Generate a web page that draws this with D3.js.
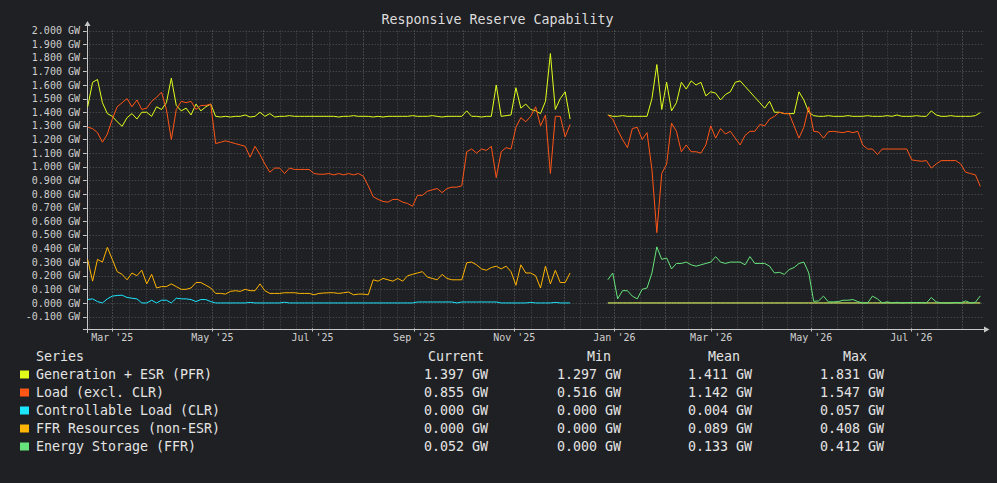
<!DOCTYPE html>
<html>
<head>
<meta charset="utf-8">
<title>Responsive Reserve Capability</title>
<script src="https://cdn.jsdelivr.net/npm/d3@7"></script>
<style>
    html, body { margin: 0; padding: 0; background: #1f2023; }
    svg text { font-family: "DejaVu Sans Mono", monospace; }
</style>
</head>
<body>
<div id="chart"></div>
<script>
"use strict";

var title = "Responsive Reserve Capability";
var seriesNames = ["Generation + ESR (PFR)", "Load (excl. CLR)", "Controllable Load (CLR)",
                   "FFR Resources (non-ESR)", "Energy Storage (FFR)"];
var seriesColors = ["#e2ff1c", "#ff5517", "#1ce6ff", "#ffb400", "#66e37c"];

/* legend statistics as printed under the chart (GW) */
var currentVals = [1.397, 0.855, 0.000, 0.000, 0.052];
var minVals     = [1.297, 0.516, 0.000, 0.000, 0.000];
var meanVals    = [1.411, 1.142, 0.004, 0.089, 0.133];
var maxVals     = [1.831, 1.547, 0.057, 0.408, 0.412];

var yTickValues = [-0.1, 0, 0.1, 0.2, 0.3, 0.4, 0.5, 0.6, 0.7, 0.8, 0.9, 1.0,
                   1.1, 1.2, 1.3, 1.4, 1.5, 1.6, 1.7, 1.8, 1.9, 2.0];
var xTickLabels = ["2025-03-01", "2025-05-01", "2025-07-01", "2025-09-01", "2025-11-01",
                   "2026-01-01", "2026-03-01", "2026-05-01", "2026-07-01"];

/* first block: samples every 3 days, 14 Feb 2025 .. 5 Dec 2025 */
var startA = "2025-02-14", endA = "2025-12-05";
var genA = [1.44, 1.62, 1.64, 1.47, 1.39, 1.37, 1.33, 1.297, 1.36, 1.39,
            1.35, 1.40, 1.40, 1.37, 1.44, 1.42, 1.47, 1.65, 1.45, 1.41,
            1.43, 1.38, 1.46, 1.41, 1.44, 1.46, 1.37, 1.365, 1.37, 1.365,
            1.37, 1.37, 1.38, 1.365, 1.37, 1.40, 1.37, 1.39, 1.365, 1.37,
            1.37, 1.375, 1.37, 1.37, 1.37, 1.37, 1.37, 1.37, 1.37, 1.37,
            1.37, 1.365, 1.37, 1.37, 1.375, 1.37, 1.37, 1.37, 1.365, 1.37,
            1.365, 1.37, 1.37, 1.37, 1.37, 1.37, 1.375, 1.37, 1.37, 1.37,
            1.375, 1.37, 1.365, 1.37, 1.37, 1.37, 1.37, 1.41, 1.37, 1.37,
            1.365, 1.37, 1.37, 1.60, 1.37, 1.375, 1.38, 1.58, 1.43, 1.46,
            1.42, 1.41, 1.39, 1.48, 1.831, 1.42, 1.50, 1.55, 1.35];
var loadA = [1.29, 1.28, 1.25, 1.18, 1.24, 1.35, 1.44, 1.47, 1.50, 1.44,
             1.49, 1.42, 1.43, 1.48, 1.51, 1.547, 1.42, 1.20, 1.42, 1.48,
             1.47, 1.48, 1.42, 1.45, 1.45, 1.46, 1.17, 1.18, 1.19, 1.18,
             1.17, 1.16, 1.15, 1.07, 1.15, 1.09, 1.02, 0.96, 0.99, 0.99,
             0.95, 0.99, 0.98, 0.98, 0.98, 0.98, 0.95, 0.945, 0.945, 0.95,
             0.94, 0.95, 0.94, 0.95, 0.94, 0.95, 0.93, 0.86, 0.78, 0.76,
             0.745, 0.74, 0.76, 0.76, 0.74, 0.73, 0.71, 0.79, 0.79, 0.82,
             0.83, 0.84, 0.81, 0.84, 0.85, 0.85, 0.86, 1.11, 1.13, 1.10,
             1.13, 1.12, 1.15, 0.92, 1.11, 1.14, 1.13, 1.29, 1.36, 1.33,
             1.37, 1.44, 1.30, 1.38, 0.95, 1.37, 1.37, 1.22, 1.31];
var clrA = [0.025, 0.03, 0.01, 0, 0.03, 0.05, 0.055, 0.057, 0.04, 0.035,
            0.03, 0, 0, 0.02, 0, 0.02, 0.02, 0, 0.035, 0.03,
            0.03, 0.025, 0.01, 0.025, 0.025, 0.01, 0, 0, 0, 0,
            0, 0, 0, 0.004, 0, 0, 0, 0, 0, 0,
            0.005, 0, 0, 0, 0, 0, 0, 0, 0, 0,
            0, 0, 0, 0, 0, 0, 0, 0, 0, 0,
            0, 0, 0, 0, 0, 0, 0, 0.007, 0.007, 0.007,
            0.007, 0.007, 0.007, 0.007, 0.007, 0, 0.007, 0.007, 0.007, 0.007,
            0.007, 0.007, 0.007, 0.007, 0, 0, 0, 0, 0, 0,
            0.004, 0, 0, 0, 0, 0.004, 0, 0, 0];
var ffrA = [0.32, 0.16, 0.32, 0.30, 0.408, 0.32, 0.23, 0.21, 0.17, 0.22,
            0.20, 0.24, 0.14, 0.21, 0.11, 0.12, 0.12, 0.14, 0.12, 0.10,
            0.10, 0.11, 0.15, 0.15, 0.13, 0.11, 0.07, 0.07, 0.065, 0.085,
            0.09, 0.085, 0.10, 0.09, 0.09, 0.14, 0.09, 0.07, 0.07, 0.07,
            0.075, 0.075, 0.075, 0.07, 0.07, 0.07, 0.06, 0.07, 0.073, 0.075,
            0.075, 0.07, 0.075, 0.08, 0.06, 0.065, 0.065, 0.06, 0.17, 0.16,
            0.18, 0.17, 0.16, 0.18, 0.16, 0.20, 0.21, 0.22, 0.23, 0.19,
            0.18, 0.17, 0.21, 0.18, 0.17, 0.17, 0.17, 0.295, 0.30, 0.28,
            0.25, 0.24, 0.26, 0.27, 0.25, 0.27, 0.23, 0.13, 0.28, 0.22,
            0.22, 0.20, 0.11, 0.27, 0.14, 0.24, 0.15, 0.15, 0.22];

/* second block after the data gap: 28 Dec 2025 .. 12 Aug 2026 */
var startB = "2025-12-28", endB = "2026-08-12";
var genB = [1.38, 1.37, 1.37, 1.375, 1.37, 1.37, 1.37, 1.37, 1.37, 1.50,
            1.75, 1.42, 1.62, 1.41, 1.47, 1.62, 1.57, 1.63, 1.60, 1.62,
            1.52, 1.55, 1.54, 1.49, 1.53, 1.55, 1.62, 1.63, 1.59, 1.55,
            1.51, 1.47, 1.43, 1.48, 1.40, 1.40, 1.39, 1.39, 1.39, 1.55,
            1.49, 1.40, 1.375, 1.37, 1.37, 1.375, 1.37, 1.37, 1.37, 1.375,
            1.37, 1.37, 1.37, 1.375, 1.37, 1.37, 1.37, 1.375, 1.37, 1.38,
            1.37, 1.37, 1.37, 1.375, 1.37, 1.37, 1.41, 1.38, 1.37, 1.37,
            1.375, 1.37, 1.37, 1.37, 1.37, 1.375, 1.397];
var loadB = [1.38, 1.35, 1.27, 1.20, 1.14, 1.28, 1.29, 1.20, 1.25, 0.98,
             0.516, 0.95, 1.02, 1.32, 1.26, 1.11, 1.16, 1.11, 1.11, 1.10,
             1.16, 1.30, 1.21, 1.28, 1.24, 1.26, 1.21, 1.16, 1.23, 1.26,
             1.26, 1.31, 1.30, 1.35, 1.37, 1.40, 1.39, 1.39, 1.30, 1.21,
             1.29, 1.44, 1.26, 1.255, 1.21, 1.257, 1.26, 1.255, 1.25, 1.26,
             1.25, 1.26, 1.16, 1.13, 1.13, 1.09, 1.13, 1.13, 1.13, 1.13,
             1.13, 1.13, 1.05, 1.045, 1.04, 1.045, 0.99, 1.02, 1.045, 1.045,
             1.045, 1.045, 1.02, 0.96, 0.95, 0.94, 0.855];
var clrB = [0, 0, 0, 0, 0, 0, 0, 0, 0, 0,
            0, 0, 0, 0, 0, 0, 0, 0, 0, 0,
            0, 0, 0, 0, 0, 0, 0, 0, 0, 0,
            0, 0, 0, 0, 0, 0, 0, 0, 0, 0,
            0, 0, 0, 0, 0, 0, 0, 0, 0, 0,
            0, 0, 0, 0, 0, 0, 0, 0, 0, 0,
            0, 0, 0, 0, 0, 0, 0, 0, 0, 0,
            0, 0, 0, 0, 0, 0, 0];
var ffrB = [0, 0, 0, 0, 0, 0, 0, 0, 0, 0,
            0, 0, 0, 0, 0, 0, 0, 0, 0, 0,
            0, 0, 0, 0, 0, 0, 0, 0, 0, 0,
            0, 0, 0, 0, 0, 0, 0, 0, 0, 0,
            0, 0, 0, 0, 0, 0, 0, 0, 0, 0,
            0, 0, 0, 0, 0, 0, 0, 0, 0, 0,
            0, 0, 0, 0, 0, 0, 0, 0, 0, 0,
            0, 0, 0, 0, 0, 0, 0];
var storB = [0.17, 0.22, 0.03, 0.09, 0.09, 0.05, 0.03, 0.10, 0.11, 0.22,
             0.412, 0.32, 0.33, 0.25, 0.29, 0.29, 0.30, 0.28, 0.27, 0.28,
             0.29, 0.30, 0.34, 0.30, 0.29, 0.30, 0.30, 0.30, 0.28, 0.34,
             0.29, 0.29, 0.29, 0.27, 0.22, 0.225, 0.21, 0.245, 0.26, 0.29,
             0.30, 0.22, 0.012, 0.015, 0.05, 0.008, 0.008, 0.01, 0.02, 0.02,
             0.025, 0.01, 0, 0, 0.05, 0.03, 0, 0.008, 0, 0.005,
             0, 0.003, 0.003, 0.003, 0.003, 0, 0.04, 0.008, 0, 0,
             0, 0.004, 0, 0.015, 0, 0.005, 0.052];

var width = 997, height = 483;
var plot = { left: 86.7, right: 984, top: 30.5, bottom: 328.5 };
var parseDay = d3.utcParse("%Y-%m-%d");

/**
 * @function samples
 * @description spreads a block of values evenly between its first and last day
 * @return array of {t, v}
 */
function samples(start, end, values) {
    var t0 = +parseDay(start), t1 = +parseDay(end);
    var step = (t1 - t0) / (values.length - 1);
    return values.map(function (v, i) { return { t: new Date(t0 + i * step), v: v }; });
}

/** joins the two blocks, leaving a break between them */
function joined(a, b) {
    var pa = a ? samples(startA, endA, a) : [];
    var pb = samples(startB, endB, b);
    if (pa.length) { pa.push({ t: parseDay("2025-12-16"), v: null }); }
    return pa.concat(pb);
}

var series = [
    joined(genA, genB),
    joined(loadA, loadB),
    joined(clrA, clrB),
    joined(ffrA, ffrB),
    joined(null, storB)
];

var svg = d3.select("#chart").append("svg")
    .attr("width", width).attr("height", height)
    .style("display", "block").style("background", "#1f2023");

var x = d3.scaleUtc()
    .domain([new Date(Date.UTC(2025, 1, 13, 10)), new Date(Date.UTC(2026, 7, 14, 6))])
    .range([plot.left, plot.right]);
var y = d3.scaleLinear().domain([-0.1875, 2.0]).range([plot.bottom, plot.top]);

function crisp(v) { return Math.round(v) + 0.5; }

/* title */
svg.append("text")
    .attr("x", 497.5).attr("y", 23.5)
    .attr("text-anchor", "middle")
    .attr("fill", "#dcdcdc").style("font-size", "13.3px")
    .text(title);

/* grid: horizontal every 0.1 GW, vertical at month starts plus minor splits */
var grid = svg.append("g").attr("class", "grid");
grid.selectAll("line.h").data(yTickValues).enter().append("line")
    .attr("class", "h")
    .attr("x1", plot.left).attr("x2", plot.right)
    .attr("y1", function (d) { return crisp(y(d)); })
    .attr("y2", function (d) { return crisp(y(d)); })
    .attr("stroke", "#555").attr("stroke-dasharray", "1,2");

var d0 = x.domain()[0], d1 = x.domain()[1];
var months = d3.utcMonth.range(d3.utcMonth.floor(d0), d1);
var minor = [];
months.forEach(function (m) {
    var next = d3.utcMonth.offset(m, 1);
    /* 2025 months (Mar..Dec) split in thirds, the others in halves */
    var parts = (m.getUTCFullYear() === 2025 && m.getUTCMonth() >= 2) ? 3 : 2;
    for (var k = 1; k < parts; k++) {
        var t = new Date(+m + (next - m) * k / parts);
        if (t > d0 && t < d1) { minor.push(t); }
    }
});
var major = months.filter(function (m) { return m > d0; });

grid.selectAll("line.vminor").data(minor).enter().append("line")
    .attr("class", "vminor")
    .attr("x1", function (d) { return crisp(x(d)); })
    .attr("x2", function (d) { return crisp(x(d)); })
    .attr("y1", plot.top).attr("y2", plot.bottom)
    .attr("stroke", "#4a4a4a").attr("stroke-dasharray", "1,2");
grid.selectAll("line.vmajor").data(major).enter().append("line")
    .attr("class", "vmajor")
    .attr("x1", function (d) { return crisp(x(d)); })
    .attr("x2", function (d) { return crisp(x(d)); })
    .attr("y1", plot.top).attr("y2", plot.bottom)
    .attr("stroke", "#666").attr("stroke-dasharray", "1,2");

/* axes with arrow heads */
var axisColor = "#c8c8c8";
var axes = svg.append("g").attr("class", "axes");
axes.append("line")
    .attr("x1", crisp(plot.left)).attr("x2", crisp(plot.left))
    .attr("y1", 333).attr("y2", 25)
    .attr("stroke", axisColor);
axes.append("path")
    .attr("d", "M" + (crisp(plot.left) - 3) + ",26 L" + crisp(plot.left) + ",21 L" + (crisp(plot.left) + 3) + ",26 Z")
    .attr("fill", axisColor);
axes.append("line")
    .attr("x1", 83).attr("x2", 985)
    .attr("y1", crisp(plot.bottom)).attr("y2", crisp(plot.bottom))
    .attr("stroke", axisColor);
axes.append("path")
    .attr("d", "M984," + (crisp(plot.bottom) - 3) + " L989.5," + crisp(plot.bottom) + " L984," + (crisp(plot.bottom) + 3) + " Z")
    .attr("fill", axisColor);

axes.selectAll("line.ytick").data(yTickValues).enter().append("line")
    .attr("class", "ytick")
    .attr("x1", 83).attr("x2", plot.left)
    .attr("y1", function (d) { return crisp(y(d)); })
    .attr("y2", function (d) { return crisp(y(d)); })
    .attr("stroke", axisColor);
axes.selectAll("text.ylabel").data(yTickValues).enter().append("text")
    .attr("class", "ylabel")
    .attr("x", 80).attr("y", function (d) { return y(d) + 3.6; })
    .attr("text-anchor", "end")
    .attr("fill", "#cfcfcf").style("font-size", "10px")
    .text(function (d) { return d.toFixed(3) + " GW"; });

var monthFmt = d3.utcFormat("%b '%y");
var xTicks = xTickLabels.map(parseDay);
axes.selectAll("line.xtick").data(xTicks).enter().append("line")
    .attr("class", "xtick")
    .attr("x1", function (d) { return crisp(x(d)); })
    .attr("x2", function (d) { return crisp(x(d)); })
    .attr("y1", plot.bottom).attr("y2", plot.bottom + 3)
    .attr("stroke", axisColor);
axes.selectAll("text.xlabel").data(xTicks).enter().append("text")
    .attr("class", "xlabel")
    .attr("x", function (d) { return x(d); }).attr("y", 340.5)
    .attr("text-anchor", "middle")
    .attr("fill", "#cfcfcf").style("font-size", "10px")
    .text(monthFmt);

/* series lines */
var line = d3.line()
    .defined(function (d) { return d.v !== null; })
    .x(function (d) { return x(d.t); })
    .y(function (d) { return y(d.v); });

svg.append("g").attr("class", "series")
    .selectAll("path").data(series).enter().append("path")
    .attr("d", line)
    .attr("fill", "none")
    .attr("stroke", function (d, i) { return seriesColors[i]; })
    .attr("stroke-width", 1)
    .attr("stroke-linejoin", "round");

/* legend table */
var legend = svg.append("g").attr("class", "legend")
    .attr("fill", "#e4e4e4").style("font-size", "13.3px");
var headers = [["Series", 36], ["Current", 428], ["Min", 587], ["Mean", 708], ["Max", 843]];
legend.selectAll("text.head").data(headers).enter().append("text")
    .attr("class", "head")
    .attr("x", function (d) { return d[1]; }).attr("y", 360.5)
    .text(function (d) { return d[0]; });

var columns = [[currentVals, 424], [minVals, 557], [meanVals, 688], [maxVals, 820]];
var rows = legend.selectAll("g.row").data(seriesNames).enter().append("g")
    .attr("class", "row")
    .attr("transform", function (d, i) { return "translate(0," + (378.5 + i * 18) + ")"; });
rows.append("rect")
    .attr("x", 20).attr("y", -8).attr("width", 9).attr("height", 8)
    .attr("fill", function (d, i) { return seriesColors[i]; });
rows.append("text").attr("x", 36).text(function (d) { return d; });
columns.forEach(function (col) {
    rows.append("text")
        .attr("x", col[1])
        .text(function (d, i) { return col[0][i].toFixed(3) + " GW"; });
});
</script>
</body>
</html>
